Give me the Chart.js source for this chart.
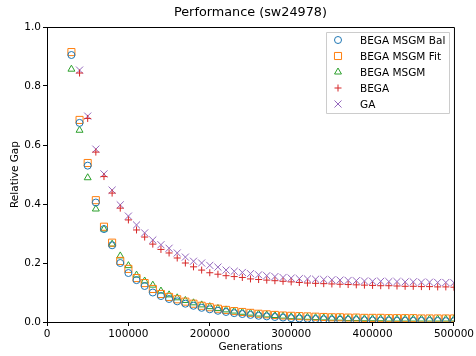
<!DOCTYPE html>
<html>
<head>
<meta charset="utf-8">
<script src="https://cdn.jsdelivr.net/npm/chart.js@4.4.1/dist/chart.umd.min.js"></script>
<style>
  html, body { margin: 0; padding: 0; background: #fff; }
  #wrap { width: 476px; height: 356px; }
</style>
</head>
<body>
<div id="wrap"><canvas id="myChart" width="476" height="356"></canvas></div>
<script>
"use strict";
// generations for the MSGM variants (start at 30000)
const gensMsgm = [30000, 40000, 50000, 60000, 70000, 80000, 90000, 100000, 110000, 120000,
  130000, 140000, 150000, 160000, 170000, 180000, 190000, 200000, 210000, 220000,
  230000, 240000, 250000, 260000, 270000, 280000, 290000, 300000, 310000, 320000,
  330000, 340000, 350000, 360000, 370000, 380000, 390000, 400000, 410000, 420000,
  430000, 440000, 450000, 460000, 470000, 480000, 490000, 500000];
// generations for BEGA and GA (start at 40000)
const gensGa = [40000, 50000, 60000, 70000, 80000, 90000, 100000, 110000, 120000,
  130000, 140000, 150000, 160000, 170000, 180000, 190000, 200000, 210000, 220000,
  230000, 240000, 250000, 260000, 270000, 280000, 290000, 300000, 310000, 320000,
  330000, 340000, 350000, 360000, 370000, 380000, 390000, 400000, 410000, 420000,
  430000, 440000, 450000, 460000, 470000, 480000, 490000, 500000];

const msgmBal = [0.905, 0.675, 0.53, 0.405, 0.315, 0.26, 0.2, 0.166, 0.142, 0.122,
  0.1, 0.088, 0.078, 0.07, 0.062, 0.055, 0.048, 0.043, 0.038, 0.034,
  0.03, 0.027, 0.024, 0.021, 0.019, 0.017, 0.015, 0.013, 0.012, 0.011,
  0.01, 0.009, 0.008, 0.0075, 0.007, 0.0065, 0.006, 0.0055, 0.005, 0.005,
  0.0045, 0.0045, 0.004, 0.004, 0.0035, 0.0035, 0.003, 0.003];
const msgmFit = [0.915, 0.685, 0.539, 0.413, 0.323, 0.269, 0.207, 0.18, 0.149, 0.132,
  0.112, 0.095, 0.085, 0.077, 0.069, 0.062, 0.055, 0.05, 0.045, 0.041,
  0.037, 0.034, 0.031, 0.028, 0.026, 0.024, 0.022, 0.021, 0.02, 0.019,
  0.018, 0.017, 0.016, 0.016, 0.015, 0.015, 0.014, 0.014, 0.014, 0.013,
  0.013, 0.013, 0.013, 0.012, 0.012, 0.012, 0.012, 0.012];
const msgm = [0.857, 0.65, 0.489, 0.383, 0.315, 0.264, 0.224, 0.191, 0.159, 0.139,
  0.125, 0.105, 0.092, 0.082, 0.073, 0.065, 0.058, 0.052, 0.046, 0.041,
  0.037, 0.033, 0.03, 0.027, 0.024, 0.022, 0.02, 0.018, 0.017, 0.016,
  0.015, 0.014, 0.013, 0.013, 0.012, 0.012, 0.011, 0.011, 0.011, 0.01,
  0.01, 0.01, 0.01, 0.01, 0.01, 0.01, 0.01, 0.01];
const bega = [0.844, 0.69, 0.576, 0.493, 0.437, 0.386, 0.346, 0.312, 0.288, 0.264,
  0.246, 0.234, 0.217, 0.2, 0.187, 0.176, 0.167, 0.162, 0.157, 0.154,
  0.151, 0.146, 0.144, 0.142, 0.14, 0.138, 0.136, 0.134, 0.132, 0.131,
  0.13, 0.129, 0.128, 0.127, 0.126, 0.125, 0.124, 0.123, 0.123, 0.122,
  0.121, 0.121, 0.12, 0.12, 0.119, 0.119, 0.118];
const ga = [0.854, 0.698, 0.586, 0.502, 0.447, 0.397, 0.359, 0.329, 0.302, 0.278,
  0.262, 0.25, 0.234, 0.22, 0.206, 0.2, 0.192, 0.186, 0.176, 0.172,
  0.168, 0.164, 0.16, 0.157, 0.154, 0.151, 0.149, 0.147, 0.146, 0.145,
  0.144, 0.143, 0.142, 0.141, 0.14, 0.139, 0.138, 0.138, 0.137, 0.137,
  0.136, 0.136, 0.135, 0.135, 0.134, 0.134, 0.133];

const seriesNames = ["BEGA MSGM Bal", "BEGA MSGM Fit", "BEGA MSGM", "BEGA", "GA"];
const xTicks = [0, 100000, 200000, 300000, 400000, 500000];
const yTicks = [0.0, 0.2, 0.4, 0.6, 0.8, 1.0];

function toPoints(xs, ys) {
  return ys.map((y, i) => ({ x: xs[i], y: y }));
}

const FONT = "'DejaVu Sans', sans-serif";
const ctx = document.getElementById("myChart");

// matplotlib-like frame, title and legend drawn on top
const mplDecor = {
  id: "mplDecor",
  afterDraw(chart) {
    const c = chart.ctx;
    const a = chart.chartArea;
    c.save();
    c.strokeStyle = "#000";
    c.lineWidth = 1;
    c.beginPath();
    c.moveTo(a.left, a.top + 0.5);
    c.lineTo(a.right + 0.5, a.top + 0.5);
    c.lineTo(a.right + 0.5, a.bottom);
    c.stroke();

    c.fillStyle = "#000";
    c.font = "12.8px " + FONT;
    c.textAlign = "center";
    c.textBaseline = "middle";
    c.fillText("Performance (sw24978)", (a.left + a.right) / 2, 13);

    // legend box
    const bx = 326, by = 32, bw = 123, bh = 81;
    c.fillStyle = "rgba(255,255,255,0.8)";
    c.strokeStyle = "#cccccc";
    c.beginPath();
    c.rect(bx + 0.5, by + 0.5, bw, bh);
    c.fill();
    c.stroke();
    c.font = "10.5px " + FONT;
    c.textAlign = "left";
    chart.data.datasets.forEach((ds, i) => {
      const y = 40 + i * 16;
      c.strokeStyle = ds.borderColor;
      c.fillStyle = "rgba(0,0,0,0)";
      c.lineWidth = 1;
      Chart.helpers.drawPoint(c, {
        pointStyle: ds.pointStyle,
        radius: ds.pointRadius,
        borderWidth: 1
      }, 338, y);
      c.fillStyle = "#000";
      c.fillText(ds.label, 360, y + 1);
    });
    c.restore();
  }
};

const mkSet = (label, xs, ys, color, style, r) => ({
  label: label,
  data: toPoints(xs, ys),
  borderColor: color,
  backgroundColor: "rgba(0,0,0,0)",
  pointStyle: style,
  pointRadius: r,
  pointHoverRadius: r,
  pointBorderWidth: 1,
  showLine: false
});

const myChart = new Chart(ctx, {
  type: "scatter",
  data: {
    datasets: [
      mkSet(seriesNames[0], gensMsgm, msgmBal, "#1f77b4", "circle", 3.5),
      mkSet(seriesNames[1], gensMsgm, msgmFit, "#ff7f0e", "rect", 5),
      mkSet(seriesNames[2], gensMsgm, msgm, "#2ca02c", "triangle", 4),
      mkSet(seriesNames[3], gensGa, bega, "#d62728", "cross", 3.5),
      mkSet(seriesNames[4], gensGa, ga, "#9467bd", "crossRot", 5)
    ]
  },
  options: {
    responsive: false,
    animation: false,
    layout: { padding: { top: 27, right: 21, left: 0, bottom: 0 } },
    plugins: {
      legend: { display: false },
      title: { display: false },
      tooltip: { enabled: false }
    },
    scales: {
      x: {
        type: "linear",
        min: 0,
        max: 500000,
        afterBuildTicks: (scale) => { scale.ticks = xTicks.map((v) => ({ value: v })); },
        afterFit: (scale) => { scale.height = 34; },
        ticks: {
          color: "#000",
          font: { family: FONT, size: 10.5 },
          padding: 2,
          maxRotation: 0,
          callback: (v) => String(v)
        },
        grid: { drawOnChartArea: false, drawTicks: true, tickLength: 4, color: "#000" },
        border: { display: true, color: "#000", width: 1 },
        title: {
          display: true,
          text: "Generations",
          color: "#000",
          font: { family: FONT, size: 10.5 },
          padding: { top: 0, bottom: 2 }
        }
      },
      y: {
        type: "linear",
        min: 0,
        max: 1,
        afterBuildTicks: (scale) => { scale.ticks = yTicks.map((v) => ({ value: v })); },
        afterFit: (scale) => { scale.width = 47; },
        ticks: {
          color: "#000",
          font: { family: FONT, size: 10.5 },
          padding: 2,
          callback: (v) => Number(v).toFixed(1)
        },
        grid: { drawOnChartArea: false, drawTicks: true, tickLength: 4, color: "#000" },
        border: { display: true, color: "#000", width: 1 },
        title: {
          display: true,
          text: "Relative Gap",
          color: "#000",
          font: { family: FONT, size: 10.5 },
          padding: { top: 9, bottom: 0 }
        }
      }
    }
  },
  plugins: [mplDecor]
});
</script>
</body>
</html>
